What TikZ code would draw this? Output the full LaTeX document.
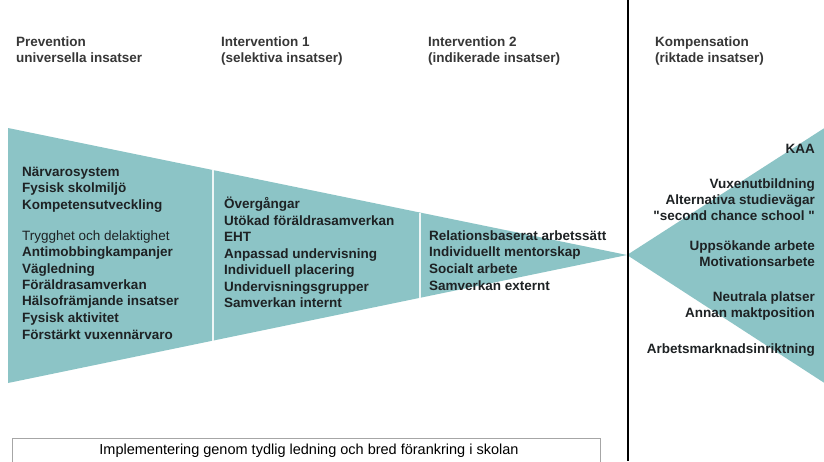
\documentclass[tikz,border=0pt]{standalone}
\usepackage{fontspec}
\setmainfont{Liberation Sans}
\newcommand{\straightq}{\XeTeXglyph\XeTeXcharglyph"22\relax}
\definecolor{funnel}{RGB}{140,196,198}
\definecolor{txt}{RGB}{30,34,36}
\definecolor{hdr}{RGB}{55,55,55}
\begin{document}
\begin{tikzpicture}[x=1pt,y=-1pt,
  lbl/.style={inner sep=0pt,text height=9.5pt,text depth=2.5pt,font=\fontsize{13.5}{15}\selectfont\bfseries,text=txt},
  lblL/.style={lbl,anchor=west},
  lblR/.style={lbl,anchor=east},
  hd/.style={inner sep=0pt,text height=9.5pt,text depth=2.5pt,font=\fontsize{13.5}{15}\selectfont\bfseries,text=hdr,anchor=west},
  divider/.style={white!85!funnel,line width=1.6pt}]
\clip (0,0) rectangle (824,461);
\fill[white] (0,0) rectangle (824,461);
% funnels
\fill[funnel] (8,128) -- (627,255) -- (8,383) -- cycle;
\fill[funnel] (627,255) -- (826,127) -- (826,384) -- cycle;
\draw[divider] (213,170.3) -- (213,340.7);
\draw[divider] (420,212.7) -- (420,298.0);
% separator
\coordinate (sepTop) at (628,0);
\coordinate (sepBot) at (628,461);
\draw[black,line width=1.6pt] (sepTop) -- (sepBot);
% headers
\node[hd] (h1a) at (16,43) {Prevention};
\node[hd] (h1b) at (16,59) {universella insatser};
\node[hd] (h2a) at (221,43) {Intervention 1};
\node[hd] (h2b) at (221,59) {(selektiva insatser)};
\node[hd] (h3a) at (428,43) {Intervention 2};
\node[hd] (h3b) at (428,59) {(indikerade insatser)};
\node[hd] (h4a) at (655,43) {Kompensation};
\node[hd] (h4b) at (655,59) {(riktade insatser)};
% column 1
\foreach \y/\t [count=\i] in {173/Närvarosystem,189/Fysisk skolmiljö,206/Kompetensutveckling,
  253/Antimobbingkampanjer,270/Vägledning,286/Föräldrasamverkan,302/Hälsofrämjande insatser,
  319/Fysisk aktivitet,336/Förstärkt vuxennärvaro}
  \node[lblL] (a\i) at (22,\y) {\t};
\node[lblL,font=\fontsize{13.5}{15}\selectfont] (atr) at (22,237) {Trygghet och delaktighet};
% column 2
\foreach \y/\t [count=\i] in {205/Övergångar,222/Utökad föräldrasamverkan,238/EHT,
  255/Anpassad undervisning,271/Individuell placering,288/Undervisningsgrupper,304/Samverkan internt}
  \node[lblL] (b\i) at (224,\y) {\t};
% column 3
\foreach \y/\t [count=\i] in {237/Relationsbaserat arbetssätt,253/Individuellt mentorskap,
  270/Socialt arbete,287/Samverkan externt}
  \node[lblL] (c\i) at (429,\y) {\t};
% column 4
\foreach \y/\t [count=\i] in {150/KAA,185/Vuxenutbildning,201/Alternativa studievägar,
  247/Uppsökande arbete,263/Motivationsarbete,
  298/Neutrala platser,314/Annan maktposition,350/Arbetsmarknadsinriktning}
  \node[lblR] (d\i) at (815,\y) {\t};
\node[lblR] (dq) at (815,217) {\straightq second chance school \straightq};
% bottom box
\node[draw=gray!70,line width=0.8pt,anchor=north west,minimum width=588pt,minimum height=34pt,inner sep=0pt] (box) at (12,438) {};
\node[inner sep=0pt,text height=10pt,text depth=3pt,font=\fontsize{14.5}{16}\selectfont,text=black] (boxtxt) at (309,451) {Implementering genom tydlig ledning och bred förankring i skolan};
\end{tikzpicture}
\end{document}
